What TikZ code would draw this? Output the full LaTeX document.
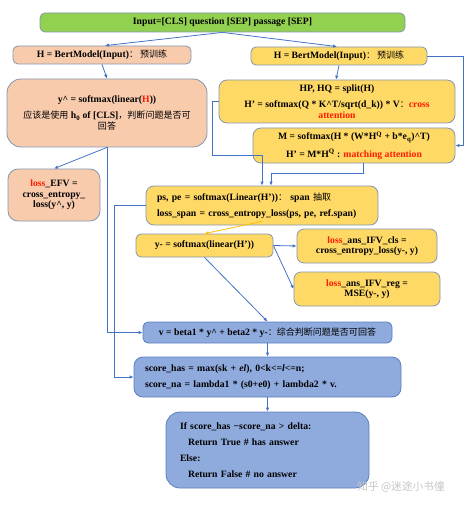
\documentclass[tikz,border=0pt]{standalone}
\usepackage{fontspec}
\setmainfont{Liberation Serif}
\newfontfamily\cjk[Scale=0.93]{Noto Sans CJK SC}
\usepackage{xcolor}
\usetikzlibrary{arrows.meta}
\definecolor{peach}{HTML}{F8CBAD}
\definecolor{gold}{HTML}{FFD966}
\definecolor{leaf}{HTML}{92D050}
\definecolor{sky}{HTML}{8FAADC}
\definecolor{edge}{HTML}{8496B0}
\definecolor{skyedge}{HTML}{5B7FC0}
\definecolor{link}{HTML}{4472C4}
\definecolor{amber}{HTML}{FFC000}
\definecolor{hot}{HTML}{FF1A00}
\newcommand{\zh}[1]{{\cjk\mdseries #1}}
\newcommand{\redtxt}[1]{\textcolor{hot}{#1}}

\begin{document}
\begin{tikzpicture}[x=1pt,y=-1pt,
    box/.style={draw=edge,line width=0.8pt,rounded corners=5pt,inner sep=1pt,
        align=center,font=\fontsize{9.7}{10.5}\selectfont\bfseries},
    arr/.style={draw=link,line width=0.8pt,-{Latex[length=4pt,width=3.5pt]}}]
            \useasboundingbox (0,0) rectangle (470,505);

            % top row
            \node[box,fill=leaf,minimum width=365pt,minimum height=19pt] (inp) at (222.5,22.5)
                {Input=[CLS] question [SEP] passage [SEP]};
            \node[box,fill=peach,minimum width=178pt,minimum height=18pt] (hleft) at (102,55)
                {H = BertModel(Input)\zh{：~预训练}};
            \node[box,fill=gold,minimum width=176pt,minimum height=18pt] (hright) at (339,56)
                {H = BertModel(Input)\zh{：~预训练}};

            % left branch
            \node[box,fill=peach,rounded corners=14pt,minimum width=200pt,minimum height=68pt] (yhat) at (107,113)
                {y\^{} = softmax(linear(\redtxt{H}))\\[5.5pt]
                 \zh{应该是使用} h\textsubscript{0} of [CLS]\zh{，判断问题是否可}\\ \zh{回答}};
            \node[box,fill=peach,rounded corners=10pt,minimum width=92pt,minimum height=52pt] (efv) at (54,195)
                {\redtxt{loss}\_EFV =\\ cross\_entropy\_\\ loss(y\^{}, y)};

            % right branch
            \node[box,fill=gold,rounded corners=8pt,minimum width=236pt,minimum height=43pt] (hp) at (337,101.5)
                {HP, HQ = split(H)\\[5.5pt]
                 H' = softmax(Q * K\^{}T/sqrt(d\_k)) * V\zh{：}\redtxt{cross}\\ \redtxt{attention}};
            \node[box,fill=gold,rounded corners=8pt,minimum width=202pt,minimum height=35pt] (m) at (354,145.5)
                {M = softmax(H * (W*H\textsuperscript{Q} + b*e\textsubscript{q})\^{}T)\\[5.5pt]
                 H' = M*H\textsuperscript{Q} : \redtxt{matching attention}};
            \node[box,fill=gold,rounded corners=8pt,align=left,inner xsep=11pt,text width=210pt,minimum height=39pt] (ps) at (262,205.5)
                {ps, pe = softmax(Linear(H'))\zh{：} span \zh{抽取}\\[5.5pt]
                 loss\_span = cross\_entropy\_loss(ps, pe, ref.span)};
            \node[box,fill=gold,minimum width=137pt,minimum height=23pt] (ymin) at (204.5,245.5)
                {y- = softmax(linear(H'))};
            \node[box,fill=gold,rounded corners=7pt,minimum width=140pt,minimum height=34pt] (cls) at (367,246)
                {\redtxt{loss}\_ans\_IFV\_cls =\\ cross\_entropy\_loss(y-, y)};
            \node[box,fill=gold,rounded corners=7pt,minimum width=146pt,minimum height=34pt] (reg) at (367,289)
                {\redtxt{loss}\_ans\_IFV\_reg =\\ MSE(y-, y)};

            % bottom
            \node[box,draw=skyedge,fill=sky,minimum width=249pt,minimum height=21pt] (v) at (267.5,332.5)
                {v = beta1 * y\^{} + beta2 * y-\zh{：综合判断问题是否可回答}};
            \node[box,draw=skyedge,fill=sky,rounded corners=9pt,align=left,inner xsep=11pt,text width=245pt,minimum height=40pt] (score) at (267.5,377)
                {score\_has = max(sk + \textit{el}), 0<k<=\textit{l}<=n;\\[5.5pt]
                 score\_na = lambda1 * (s0+e0) + lambda2 * v.};
            \node[box,draw=skyedge,fill=sky,rounded corners=14pt,align=left,inner xsep=14pt,text width=175pt,minimum height=76pt] (final) at (267.5,450)
                {If score\_has −score\_na > delta:\\[5.5pt]
                 \hspace*{8pt}Return True \# has answer\\[5.5pt]
                 Else:\\[5.5pt]
                 \hspace*{8pt}Return False \# no answer};

            \node[text=gray!45,font=\cjk\fontsize{11.5}{13}\selectfont] (mark) at (401,487) {知乎 @迷途小书僮};

            % connectors
            \draw[arr] (inp.south) -- ([xshift=3pt]hleft.north);
            \draw[arr] (inp.south) -- ([xshift=-2pt]hright.north);
            \draw[arr] (hleft.south) -- (yhat.north);
            \draw[arr] (hright.south) -- ([xshift=-1pt]hp.north);
            \draw[arr] (hright.east) -- ++(36,0) |- (m.east);
            \draw[arr] (hp.west) -- ++(-6,0) |- (262,155) -- (ps.north);
            \draw[arr] ([xshift=9pt]m.south) |- ([xshift=9pt,yshift=12pt]ps.north) -- ([xshift=9pt]ps.north);
            \draw[arr] (yhat.south) -- (efv.north);
            \draw[arr] (yhat.south) |- (v.west);
            \draw[arr] (ps.west) -- ++(-31,0) |- (score.west);
            \draw[arr,draw=amber] ([yshift=4pt]ps.south) -- (ymin.north);
            \draw[arr] (ymin.east) -- (cls.west);
            \draw[arr] (ymin.east) -- (reg.west);
            \draw[arr] (ymin.south) -- (v.north);
            \draw[arr] (v.south) -- (score.north);
            \draw[arr] (score.south) -- (final.north);
        \end{tikzpicture}
\end{document}
